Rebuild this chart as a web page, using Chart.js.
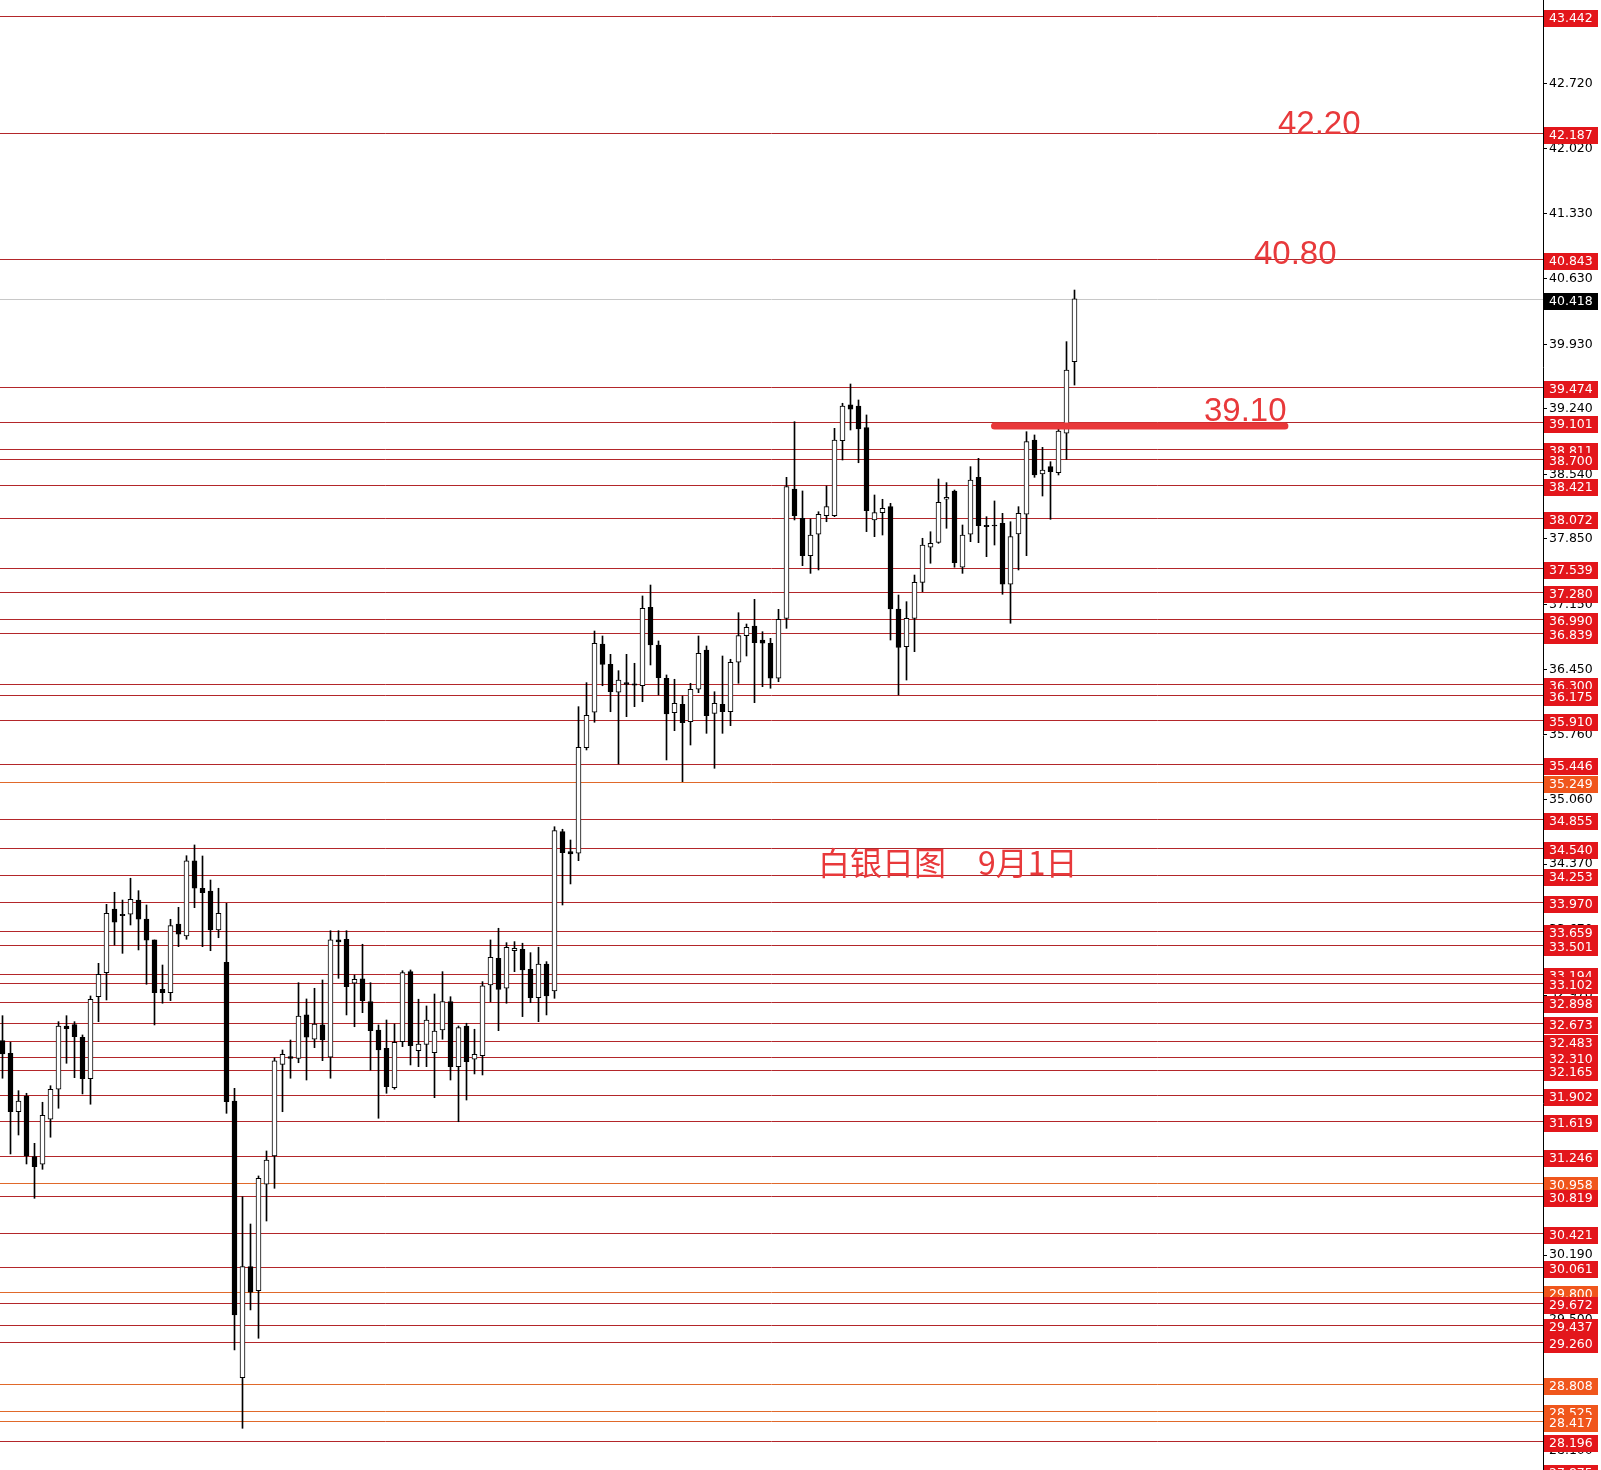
<!DOCTYPE html>
<html><head><meta charset="utf-8">
<script src="https://cdn.jsdelivr.net/npm/chart.js@4.4.0/dist/chart.umd.min.js"></script>
<style>html,body{margin:0;padding:0;background:#fff;overflow:hidden}#wrap{width:1601px;height:1470px;position:relative}</style>
</head><body><div id="wrap"><canvas id="c" width="1601" height="1470"></canvas></div>
<script>
// ---- candle data (daily silver) ----
const opens = [32.483,32.348,31.723,31.891,31.242,31.161,31.642,31.963,32.640,32.654,32.519,32.076,32.953,33.210,33.891,33.835,33.835,33.987,33.784,33.560,33.032,32.996,33.731,33.602,34.405,34.113,34.084,33.667,33.321,31.838,28.879,30.066,29.809,30.947,31.250,32.230,32.312,32.294,32.758,32.498,32.651,32.305,33.560,33.567,33.097,33.143,32.900,32.597,32.401,31.980,32.472,33.221,32.376,32.444,32.355,32.597,32.900,32.205,32.640,32.284,32.322,33.078,33.364,33.043,33.445,33.460,33.246,32.943,33.303,33.014,34.718,34.504,34.487,35.616,35.995,36.725,36.508,36.209,36.312,36.298,36.279,37.118,36.715,36.359,35.991,36.081,35.894,36.241,36.661,35.984,36.081,36.001,36.530,36.814,36.918,36.768,36.733,36.359,37.000,38.383,38.070,37.670,37.899,38.098,38.098,38.900,39.282,39.271,39.039,38.052,38.130,38.194,37.100,36.697,37.000,37.385,37.760,37.813,38.273,38.362,37.546,37.899,38.508,37.995,37.998,38.016,37.364,37.902,38.113,38.907,38.544,38.622,38.557,38.979,39.745];
const highs = [32.750,32.466,31.948,31.920,31.385,31.824,32.001,32.686,32.750,32.686,32.544,32.961,33.310,33.941,34.070,33.987,34.220,34.087,33.934,33.560,33.292,33.781,33.909,34.461,34.576,34.458,34.201,34.113,33.952,31.974,30.814,30.522,31.036,31.303,32.298,32.383,32.490,33.103,32.929,33.043,33.132,33.659,33.659,33.659,33.185,33.514,33.103,32.651,32.704,32.661,33.231,33.239,32.926,32.854,32.982,33.221,32.953,32.640,32.669,32.605,33.114,33.560,33.685,33.531,33.542,33.525,33.424,33.482,33.328,34.771,34.744,34.629,36.055,36.312,36.864,36.811,36.615,36.440,36.615,36.519,37.239,37.356,36.758,36.394,36.348,36.169,36.305,36.811,36.704,36.215,36.597,36.562,37.060,36.939,37.203,36.857,36.786,37.096,38.508,39.103,38.362,38.062,38.140,38.415,39.032,39.300,39.506,39.335,39.175,38.319,38.273,38.230,37.249,37.178,37.463,37.856,37.926,38.490,38.451,38.372,37.998,38.622,38.711,38.087,38.255,38.123,38.033,38.194,38.996,38.961,38.829,38.675,39.049,39.959,40.511];
const lows = [32.081,31.271,31.474,31.164,30.797,31.107,31.450,31.760,32.241,32.087,31.913,31.803,32.686,32.918,33.506,33.417,33.720,33.453,33.086,32.651,32.883,32.911,33.488,33.567,33.905,33.488,33.445,33.584,31.706,29.175,28.337,29.603,29.300,30.554,30.904,31.723,32.081,32.247,32.062,32.408,32.269,32.081,33.150,32.758,32.632,32.782,32.169,31.653,31.920,31.963,32.419,32.223,32.205,32.205,31.873,32.498,32.062,31.616,31.848,32.127,32.116,32.900,32.590,32.883,33.221,32.740,32.889,32.686,32.758,32.936,33.934,34.159,34.408,35.592,35.888,36.279,36.001,35.442,35.948,36.055,36.108,36.501,36.180,35.485,35.798,35.253,35.645,36.205,35.770,35.396,35.770,35.852,36.305,36.597,36.098,36.269,36.252,36.322,36.893,38.052,37.563,37.481,37.517,38.033,38.087,38.693,39.014,38.664,37.927,37.873,37.891,36.768,36.180,36.340,36.643,37.285,37.589,37.802,37.963,37.546,37.481,37.820,37.809,37.659,37.784,37.257,36.947,37.517,37.670,38.508,38.308,38.059,38.533,38.701,39.495];
const closes = [32.340,31.723,31.838,31.250,31.135,31.685,31.963,32.640,32.611,32.526,32.076,32.925,33.193,33.845,33.749,33.820,33.995,33.781,33.557,32.996,32.996,33.713,33.621,34.405,34.113,34.066,33.667,33.845,31.830,29.549,30.066,29.792,31.011,31.207,32.266,32.337,32.294,32.747,32.519,32.661,32.490,33.560,33.538,33.060,33.139,32.911,32.590,32.383,31.991,32.466,33.210,32.429,32.447,32.704,32.586,32.900,32.205,32.622,32.258,32.337,33.068,33.375,33.032,33.482,33.471,33.239,32.943,33.303,32.961,34.729,34.493,34.479,35.621,35.963,36.733,36.508,36.215,36.340,36.294,36.284,37.107,36.715,36.365,35.977,36.091,35.884,36.241,36.626,35.959,36.091,36.001,36.530,36.814,36.904,36.739,36.733,36.359,36.990,38.408,38.098,37.670,37.891,38.113,38.194,38.907,39.271,39.236,39.025,38.151,38.130,38.177,37.100,36.690,37.000,37.385,37.784,37.802,38.241,38.294,37.595,37.891,38.479,37.991,37.980,37.987,37.364,37.873,38.123,38.889,38.533,38.586,38.568,39.003,39.656,40.418];

// ---- horizontal price levels ----
const redLevels = [43.442,42.187,40.843,39.474,39.101,38.811,38.700,38.421,38.072,37.539,37.280,36.990,36.839,36.300,36.175,35.910,35.446,34.855,34.540,34.253,33.970,33.659,33.501,33.194,33.102,32.898,32.673,32.483,32.310,32.165,31.902,31.619,31.246,30.819,30.421,30.061,29.672,29.437,29.260,28.196,27.875];
const orangeLevels = [35.249,30.958,29.800,28.808,28.525,28.417];
const currentPrice = 40.418;
const axisTicks = [42.720,42.020,41.330,40.630,39.930,39.240,38.540,37.850,37.150,36.450,35.760,35.060,34.370,33.670,32.970,32.280,31.580,30.890,30.190,29.500,28.800,28.100];
const targetTexts = ['42.20','40.80','39.10'];
const titleText = '白银日图　9月1日';
const breakoutLevel = 39.057;

const LINE_RED = '#b3262a', LINE_ORANGE = '#e0692a';
const BOX_RED = '#e3161b', BOX_ORANGE = '#f0561c';

const idx = opens.map((_, i) => i);
const bodyData = idx.map(i => ({x: i, y: [opens[i], closes[i]]}));
const wickData = idx.map(i => ({x: i, y: [lows[i], highs[i]]}));
const bodyFill = idx.map(i => closes[i] >= opens[i] ? '#ffffff' : '#000000');

const levelsPlugin = {
  id: 'levels',
  beforeDatasetsDraw(chart) {
    const {ctx, chartArea: a, scales: {y}} = chart;
    ctx.save();
    ctx.lineWidth = 1;
    const draw = (v, c) => {
      const py = Math.round(y.getPixelForValue(v)) + 0.5;
      ctx.strokeStyle = c;
      ctx.beginPath(); ctx.moveTo(a.left, py); ctx.lineTo(a.right, py); ctx.stroke();
    };
    redLevels.forEach(v => draw(v, LINE_RED));
    orangeLevels.forEach(v => draw(v, LINE_ORANGE));
    draw(currentPrice, '#c8c8c8');
    ctx.restore();
  },
  afterDatasetsDraw(chart) {
    const {ctx, scales: {x, y}} = chart;
    ctx.save();
    // breakout marker line
    const py = y.getPixelForValue(breakoutLevel);
    ctx.strokeStyle = '#e8383a';
    ctx.lineWidth = 7;
    ctx.lineCap = 'round';
    ctx.beginPath();
    ctx.moveTo(x.getPixelForValue(124.0), py);
    ctx.lineTo(x.getPixelForValue(160.3), py);
    ctx.stroke();
    // target texts
    ctx.fillStyle = '#e8393b';
    ctx.textBaseline = 'alphabetic';
    ctx.textAlign = 'left';
    ctx.font = '33px "Liberation Sans", Arial, sans-serif';
    ctx.fillText(targetTexts[0], 1278, 134);
    ctx.fillText(targetTexts[1], 1254, 264);
    ctx.fillText(targetTexts[2], 1204, 421);
    ctx.font = '32px "Noto Sans CJK SC", sans-serif';
    ctx.textBaseline = 'middle';
    ctx.fillText(titleText, 818, 863);
    ctx.restore();
  },
  afterDraw(chart) {
    const {ctx, chartArea: a, scales: {y}} = chart;
    const all = redLevels.map(v => [v, BOX_RED]).concat(orangeLevels.map(v => [v, BOX_ORANGE]), [[currentPrice, '#000000']]);
    all.sort((p, q) => q[0] - p[0]);
    ctx.save();
    ctx.font = '12.5px "DejaVu Sans", sans-serif';
    ctx.textBaseline = 'middle';
    ctx.textAlign = 'left';
    all.forEach(([v, c]) => {
      const py = Math.round(y.getPixelForValue(v));
      ctx.fillStyle = c;
      ctx.fillRect(a.right + 1, py - 6, 54, 17);
      ctx.fillStyle = '#ffffff';
      ctx.fillText(v.toFixed(3), a.right + 6, py + 2.5);
    });
    ctx.restore();
  }
};

new Chart(document.getElementById('c'), {
  type: 'bar',
  data: {
    datasets: [
      {label: 'body', data: bodyData, backgroundColor: bodyFill, borderColor: '#000', borderWidth: 1,
       borderSkipped: false, barThickness: 5, grouped: false, order: 0},
      {label: 'wick', data: wickData, backgroundColor: '#000', borderWidth: 0,
       barThickness: 1, grouped: false, order: 1}
    ]
  },
  options: {
    responsive: false,
    animation: false,
    devicePixelRatio: 1,
    layout: {padding: 0},
    plugins: {legend: {display: false}, tooltip: {enabled: false}, title: {display: false}},
    scales: {
      x: {type: 'linear', display: false, min: -0.3125, max: 192.5625, offset: false},
      y: {
        type: 'linear', position: 'right', min: 27.891, max: 43.613,
        afterBuildTicks: s => { s.ticks = axisTicks.map(v => ({value: v})); },
        afterFit: s => { s.width = 58; s.paddingTop = 0; s.paddingBottom = 0; },
        grid: {drawOnChartArea: false, tickLength: 4, color: '#000', tickColor: '#000'},
        border: {display: true, color: '#000', width: 1},
        ticks: {autoSkip: false, padding: 2, color: '#000', font: {family: 'DejaVu Sans', size: 12.5},
                callback: v => Number(v).toFixed(3)}
      }
    }
  },
  plugins: [levelsPlugin]
});
</script></body></html>
